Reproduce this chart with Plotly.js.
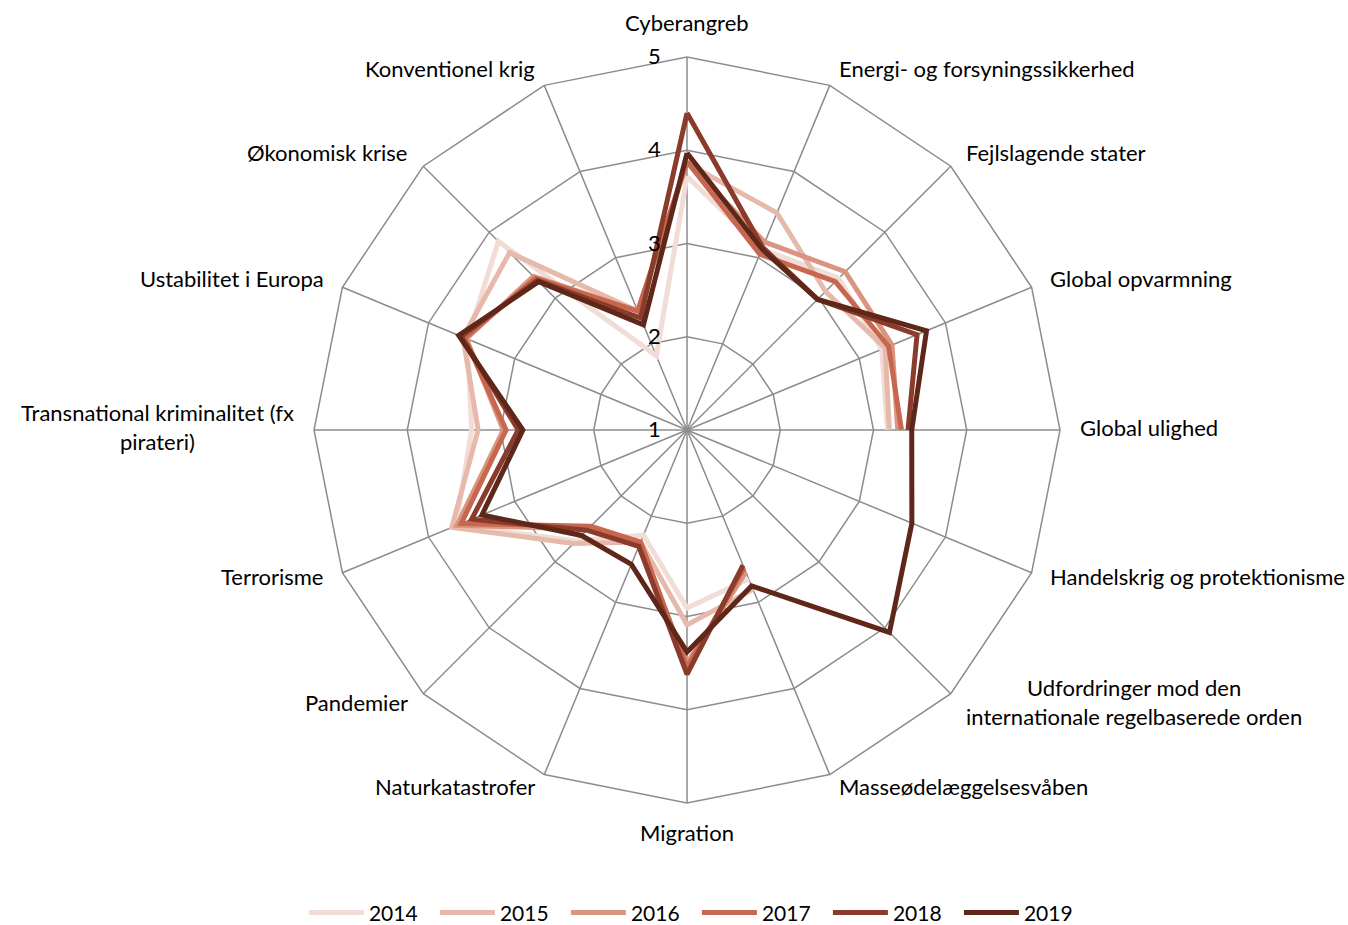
<!DOCTYPE html>
<html>
<head>
<meta charset="utf-8">
<script src="https://cdn.plot.ly/plotly-3.0.1.min.js"></script>
<style>
html,body{margin:0;padding:0;background:#fff;}
#chart{width:1348px;height:925px;}
</style>
</head>
<body>
<div id="chart"></div>
<script>
const NB = "\u00a0";
const categories = [
  "Cyberangreb",
  "Energi- og forsyningssikkerhed",
  "Fejlslagende stater",
  "Global opvarmning",
  "Global ulighed",
  "Handelskrig og protektionisme",
  "Udfordringer mod den<br>internationale regelbaserede orden",
  "Masseødelæggelsesvåben",
  "Migration",
  "Naturkatastrofer",
  "Pandemier",
  "Terrorisme",
  "Transnational kriminalitet (fx<br>pirateri)",
  "Ustabilitet i Europa",
  "Økonomisk krise",
  "Konventionel krig"
];

const years = ["2014", "2015", "2016", "2017", "2018", "2019"];

const v2014 = [3.72, 3.10, 3.30, 3.26, 3.15, null, null, 2.73, 2.91, 2.22, 2.68, 3.68, 3.31, 3.55, 3.86, 1.86];
const v2015 = [3.86, 3.52, 3.10, 3.30, 3.17, null, null, 2.85, 3.09, 2.30, 2.72, 3.73, 3.24, 3.60, 3.69, 2.38];
const v2016 = [3.87, 3.18, 3.40, 3.38, 3.26, null, null, 2.65, 3.50, 2.35, 2.50, 3.67, 2.97, 3.56, 3.33, 2.38];
const v2017 = [3.88, 3.04, 3.25, 3.34, 3.30, null, null, 2.60, 3.55, 2.30, 2.46, 3.62, 2.94, 3.58, 3.30, 2.38];
const v2018 = [4.40, 3.12, 2.98, 3.67, 3.37, null, null, 2.57, 3.62, 2.35, 2.52, 3.50, 2.81, 3.62, 3.27, 2.30];
const v2019 = [3.97, 3.10, 2.98, 3.78, 3.41, 3.61, 4.07, 2.81, 3.38, 2.56, 2.60, 3.38, 2.76, 3.65, 3.25, 2.22];

const radialTicks = [1, 2, 3, 4, 5];
const radialLabels = ["1", "2", "3", "4", "5"];

const seriesValues = [v2014, v2015, v2016, v2017, v2018, v2019];
const colors = ["#f2dcd6", "#e6b9ab", "#d9957f", "#c8674f", "#8b3b2b", "#5e2719"];

const FONT = "Lato, 'Open Sans', 'DejaVu Sans', sans-serif";
const W = 1348, H = 925;
const polarDomain = {x: [0.2329, 0.7864], y: [0.1319, 0.9384]};

const traces = seriesValues.map((vals, i) => ({
  type: "scatterpolar",
  mode: "lines",
  name: years[i],
  r: vals.concat([vals[0]]),
  theta: categories.concat([categories[0]]),
  connectgaps: false,
  line: {color: colors[i], width: 5},
  hoverinfo: "skip"
}));

// Category labels placed around the polygon (computed from the polar geometry)
const cxPx = (polarDomain.x[0] + polarDomain.x[1]) / 2 * W;
const cyPx = H - (polarDomain.y[0] + polarDomain.y[1]) / 2 * H;
const Rpx = Math.min((polarDomain.x[1] - polarDomain.x[0]) * W, (polarDomain.y[1] - polarDomain.y[0]) * H) / 2;
const annotations = categories.map((c, k) => {
  const th = k * 2 * Math.PI / categories.length;
  const s = Math.sin(th), co = Math.cos(th);
  const vx = cxPx + Rpx * s, vy = cyPx - Rpx * co;
  let x, y, xanchor;
  if (Math.abs(s) < 0.05) {
    x = vx; xanchor = "center";
    y = vy - 2 - 32 * co;
  } else {
    const off = 2 + 17 * Math.abs(s);
    x = vx + (s > 0 ? off : -off);
    xanchor = s > 0 ? "left" : "right";
    y = vy - 2.5 - 15.5 * co;
  }
  return {
    text: c, showarrow: false, xref: "paper", yref: "paper",
    x: x / W, y: 1 - y / H, xanchor: xanchor, yanchor: "middle",
    align: "center", borderpad: 0,
    font: {family: FONT, size: 22, color: "#000"}
  };
});

const layout = {
  width: W,
  height: H,
  margin: {l: 0, r: 0, t: 0, b: 0, autoexpand: false},
  paper_bgcolor: "#ffffff",
  font: {family: FONT, color: "#000000", size: 22},
  showlegend: true,
  legend: {
    orientation: "h",
    x: 0.517, xanchor: "center",
    y: 0.013, yanchor: "middle",
    font: {family: FONT, size: 21, color: "#000"},
    itemwidth: 55,
    entrywidth: 61,
    entrywidthmode: "pixels",
    tracegroupgap: 0
  },
  annotations: annotations,
  polar: {
    domain: polarDomain,
    gridshape: "linear",
    bgcolor: "#ffffff",
    angularaxis: {
      type: "category",
      categoryarray: categories,
      rotation: 90,
      direction: "clockwise",
      showline: true,
      linecolor: "#8c8c8c",
      linewidth: 1.5,
      showgrid: true,
      gridcolor: "#8c8c8c",
      gridwidth: 1.5,
      ticks: "",
      showticklabels: false
    },
    radialaxis: {
      range: [1, 5],
      tickvals: radialTicks,
      ticktext: radialLabels.map(s => s + NB.repeat(4)),
      angle: 90,
      tickangle: 90,
      side: "counterclockwise",
      showline: false,
      showgrid: true,
      gridcolor: "#8c8c8c",
      gridwidth: 1.5,
      ticks: "",
      tickfont: {family: FONT, size: 22, color: "#000"}
    }
  }
};

Plotly.newPlot("chart", traces, layout, {displayModeBar: false, staticPlot: true});
</script>
</body>
</html>
